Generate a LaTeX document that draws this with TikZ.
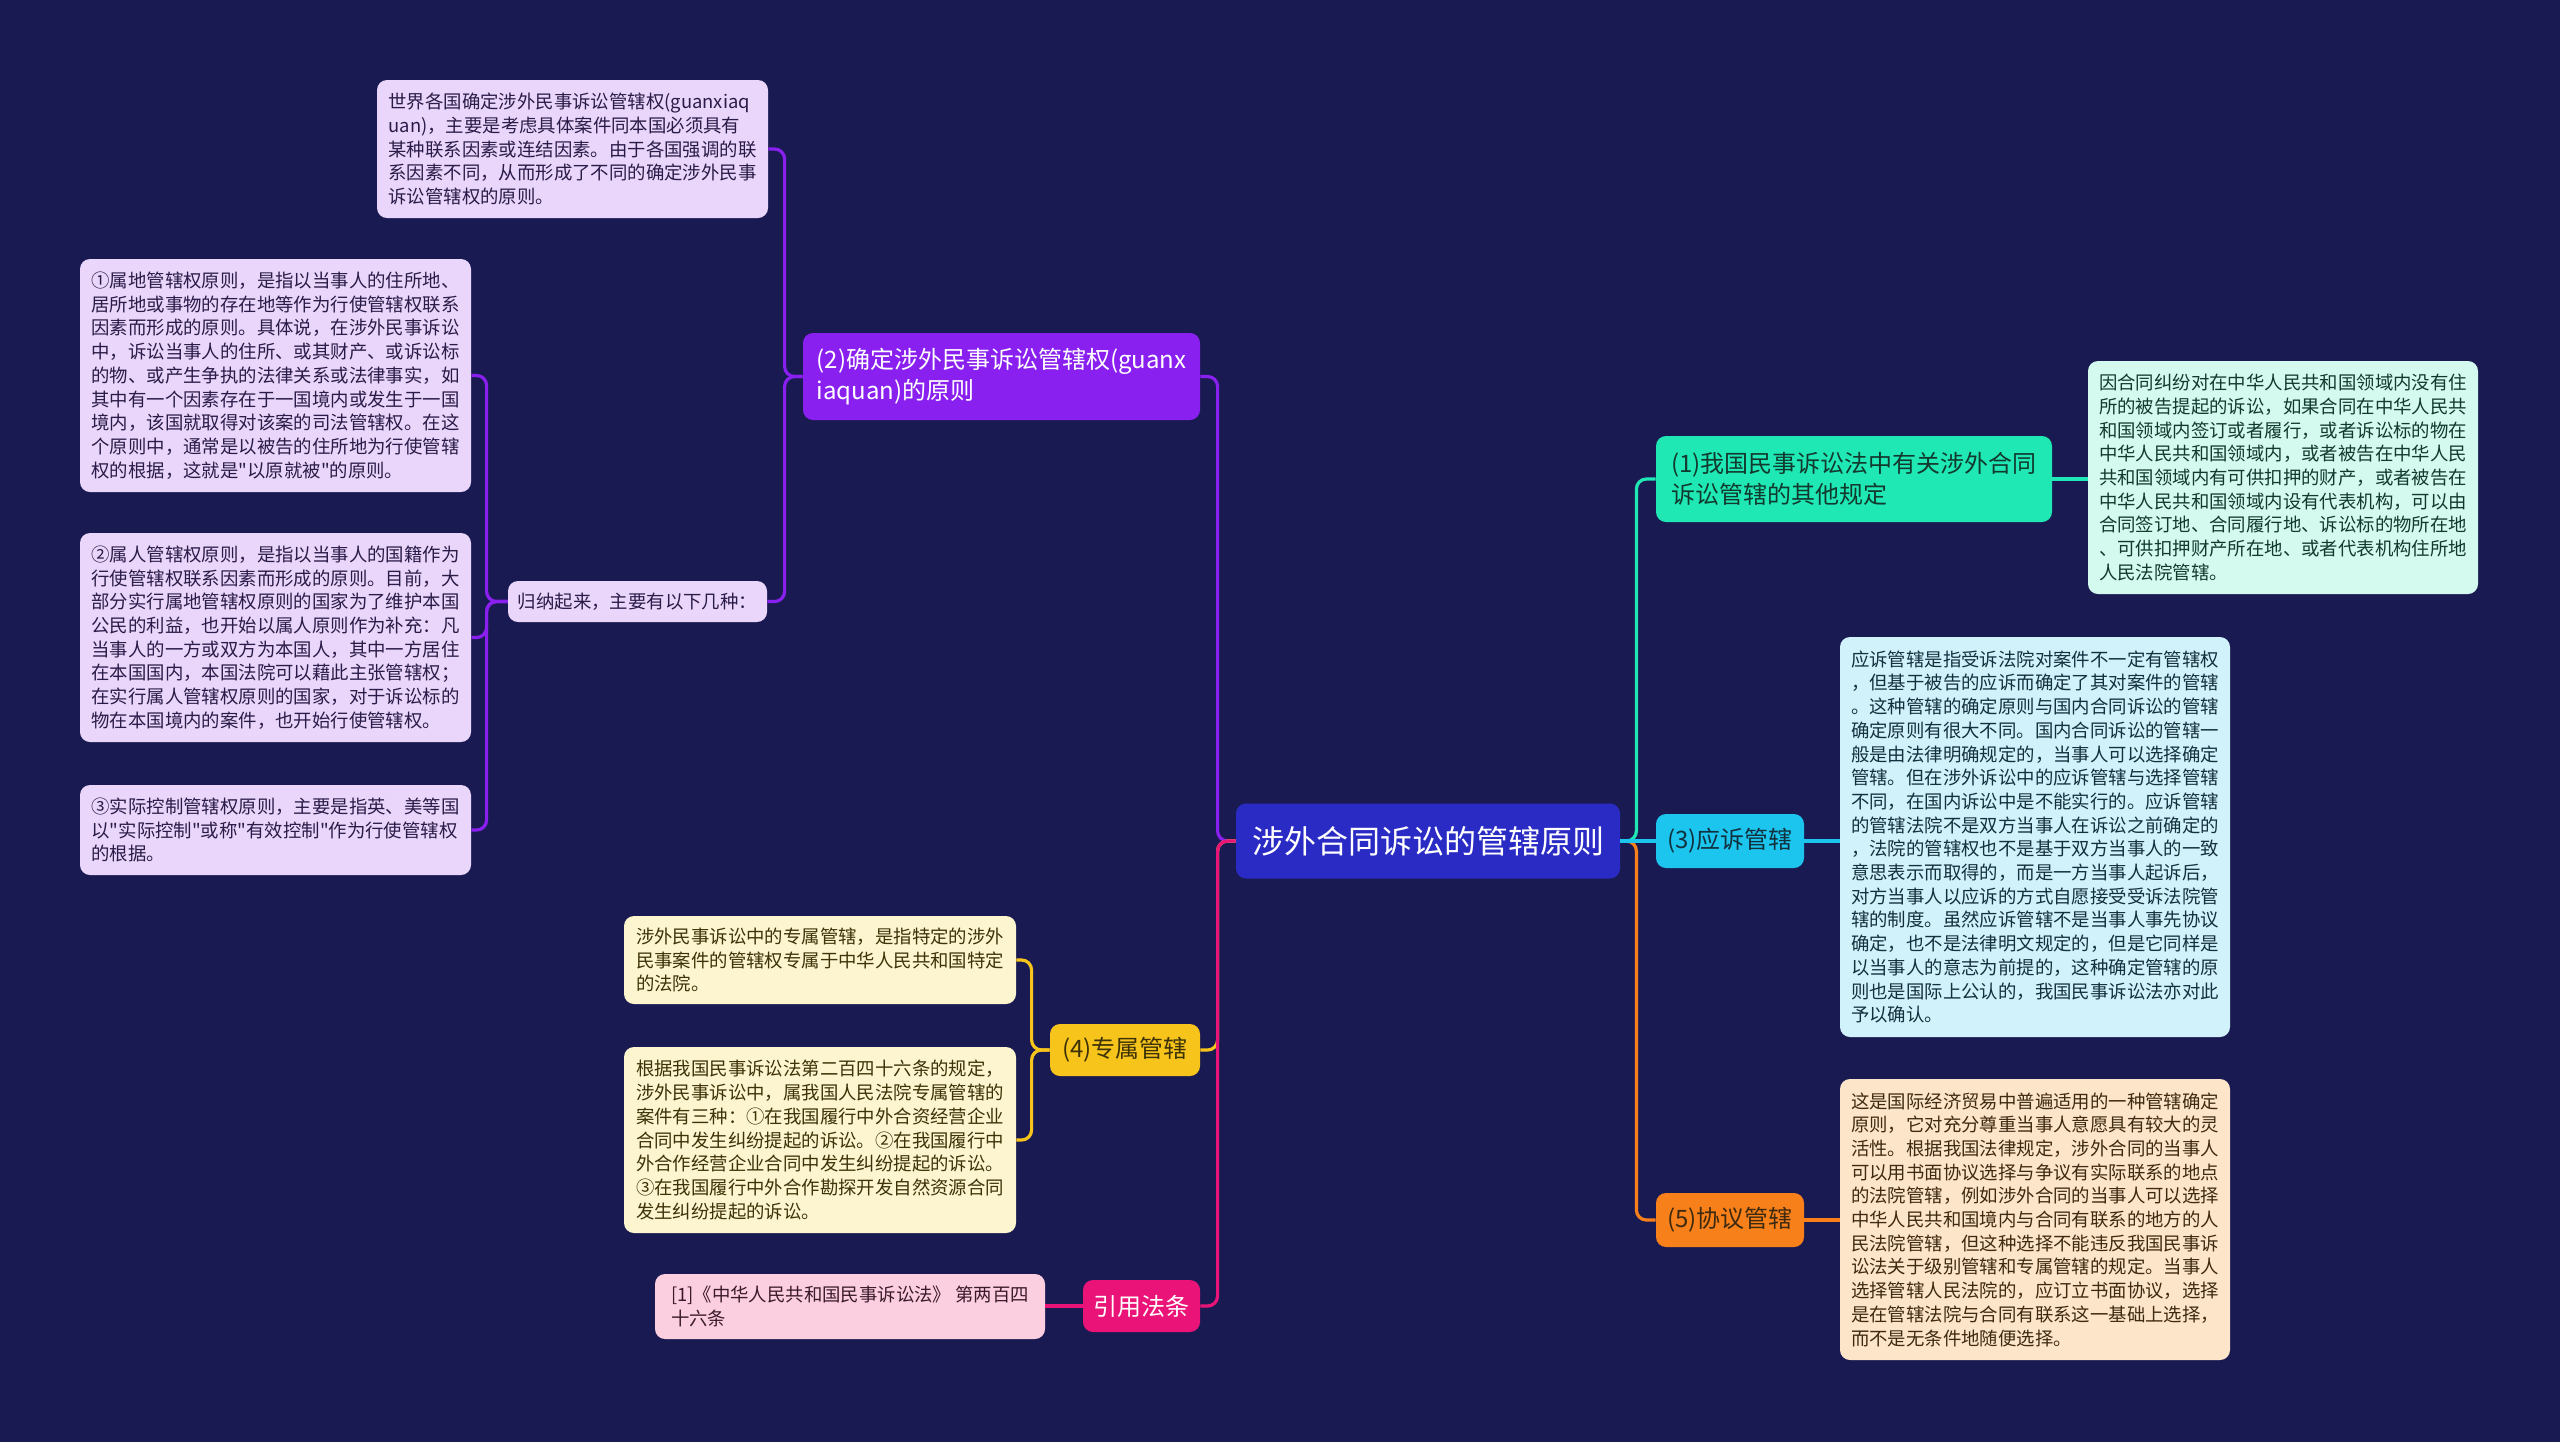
\documentclass[tikz,border=0pt]{standalone}
\usepackage{fontspec}
\setmainfont{Noto Sans CJK SC}[Ligatures=TeXOff]
\usetikzlibrary{calc}
\definecolor{bg}{HTML}{1A1A52}
\definecolor{croot}{HTML}{2A2BC4}
\definecolor{cpurple}{HTML}{8A20F0}
\definecolor{lpurple}{HTML}{E9D6FA}
\definecolor{tpurple}{HTML}{2A1B48}
\definecolor{cyellow}{HTML}{F7C41C}
\definecolor{lyellow}{HTML}{FDF5CF}
\definecolor{tyellow}{HTML}{3D3208}
\definecolor{cpink}{HTML}{EA1478}
\definecolor{lpink}{HTML}{FCCFE0}
\definecolor{tpink}{HTML}{3A1A2A}
\definecolor{cteal}{HTML}{1FE8B5}
\definecolor{lteal}{HTML}{D4FAF0}
\definecolor{tteal}{HTML}{12392E}
\definecolor{ccyan}{HTML}{1CC5EE}
\definecolor{lcyan}{HTML}{D2F2FB}
\definecolor{tcyan}{HTML}{12303E}
\definecolor{corange}{HTML}{F7801A}
\definecolor{lorange}{HTML}{FDE5CA}
\definecolor{torange}{HTML}{3E2A10}
\begin{document}
\begin{tikzpicture}[x=0.5pt,y=-0.5pt,
  box/.style={rounded corners=5pt, draw=none, align=left, inner xsep=4pt, inner ysep=2pt},
  leaf/.style={box, font=\fontsize{9.2}{11.85}\selectfont},
  branch/.style={box, font=\fontsize{12}{15.5}\selectfont},
  conn/.style={line width=1.6pt, rounded corners=5pt}]
\fill[bg] (0,0) rectangle (2560,1442);
\useasboundingbox (0,0) rectangle (2560,1442);

% root
\node[box, fill=croot, text=white, font=\fontsize{16}{20}\selectfont, align=center,
  minimum width=192pt, minimum height=37.5pt] (root) at (1428,841) {涉外合同诉讼的管辖原则};

% left branches
\node[branch, fill=cpurple, text=white, minimum width=198.5pt, minimum height=43.5pt] (b2) at (1001.5,376.5)
  {(2)确定涉外民事诉讼管辖权(guanx\\iaquan)的原则};
\node[branch, fill=cyellow, text=tyellow, align=center, minimum width=75pt, minimum height=26pt] (b4) at (1125,1050) {(4)专属管辖};
\node[branch, fill=cpink, text=white, align=center, minimum width=58.5pt, minimum height=26pt] (bref) at (1141.5,1306) {引用法条};

% right branches
\node[branch, fill=cteal, text=tteal, minimum width=198pt, minimum height=43pt] (b1) at (1854,479)
  {(1)我国民事诉讼法中有关涉外合同\\诉讼管辖的其他规定};
\node[branch, fill=ccyan, text=tcyan, align=center, minimum width=74pt, minimum height=27pt] (b3) at (1730,841) {(3)应诉管辖};
\node[branch, fill=corange, text=torange, align=center, minimum width=74pt, minimum height=27pt] (b5) at (1730,1220) {(5)协议管辖};

% purple leaves
\node[leaf, fill=lpurple, text=tpurple, minimum width=195.5pt, minimum height=69pt] (l2a) at (572.5,149)
  {世界各国确定涉外民事诉讼管辖权(guanxiaq\\uan)，主要是考虑具体案件同本国必须具有\\某种联系因素或连结因素。由于各国强调的联\\系因素不同，从而形成了不同的确定涉外民事\\诉讼管辖权的原则。};
\node[leaf, fill=lpurple, text=tpurple, minimum width=129.5pt, minimum height=20.5pt] (l2b) at (637.5,601.5)
  {归纳起来，主要有以下几种：};
\node[leaf, fill=lpurple, text=tpurple, minimum width=195.5pt, minimum height=116.5pt] (lp1) at (275.5,375.5)
  {①属地管辖权原则，是指以当事人的住所地、\\居所地或事物的存在地等作为行使管辖权联系\\因素而形成的原则。具体说，在涉外民事诉讼\\中，诉讼当事人的住所、或其财产、或诉讼标\\的物、或产生争执的法律关系或法律事实，如\\其中有一个因素存在于一国境内或发生于一国\\境内，该国就取得对该案的司法管辖权。在这\\个原则中，通常是以被告的住所地为行使管辖\\权的根据，这就是"以原就被"的原则。};
\node[leaf, fill=lpurple, text=tpurple, minimum width=195.5pt, minimum height=104.5pt] (lp2) at (275.5,637.5)
  {②属人管辖权原则，是指以当事人的国籍作为\\行使管辖权联系因素而形成的原则。目前，大\\部分实行属地管辖权原则的国家为了维护本国\\公民的利益，也开始以属人原则作为补充：凡\\当事人的一方或双方为本国人，其中一方居住\\在本国国内，本国法院可以藉此主张管辖权；\\在实行属人管辖权原则的国家，对于诉讼标的\\物在本国境内的案件，也开始行使管辖权。};
\node[leaf, fill=lpurple, text=tpurple, minimum width=195.5pt, minimum height=45pt] (lp3) at (275.5,830)
  {③实际控制管辖权原则，主要是指英、美等国\\以"实际控制"或称"有效控制"作为行使管辖权\\的根据。};

% yellow leaves
\node[leaf, fill=lyellow, text=tyellow, minimum width=196pt, minimum height=44pt] (l4a) at (820,960)
  {涉外民事诉讼中的专属管辖，是指特定的涉外\\民事案件的管辖权专属于中华人民共和国特定\\的法院。};
\node[leaf, fill=lyellow, text=tyellow, minimum width=196pt, minimum height=93pt] (l4b) at (820,1140)
  {根据我国民事诉讼法第二百四十六条的规定，\\涉外民事诉讼中，属我国人民法院专属管辖的\\案件有三种：①在我国履行中外合资经营企业\\合同中发生纠纷提起的诉讼。②在我国履行中\\外合作经营企业合同中发生纠纷提起的诉讼。\\③在我国履行中外合作勘探开发自然资源合同\\发生纠纷提起的诉讼。};

% pink leaf
\node[leaf, fill=lpink, text=tpink, minimum width=195pt, minimum height=32.5pt] (lref) at (850,1306.5)
  {[1]《中华人民共和国民事诉讼法》~第两百四\\十六条};

% right leaves
\node[leaf, fill=lteal, text=tteal, minimum width=195pt, minimum height=116.5pt] (l1) at (2283,477.5)
  {因合同纠纷对在中华人民共和国领域内没有住\\所的被告提起的诉讼，如果合同在中华人民共\\和国领域内签订或者履行，或者诉讼标的物在\\中华人民共和国领域内，或者被告在中华人民\\共和国领域内有可供扣押的财产，或者被告在\\中华人民共和国领域内设有代表机构，可以由\\合同签订地、合同履行地、诉讼标的物所在地\\、可供扣押财产所在地、或者代表机构住所地\\人民法院管辖。};
\node[leaf, fill=lcyan, text=tcyan, minimum width=195pt, minimum height=200pt] (l3) at (2035,837)
  {应诉管辖是指受诉法院对案件不一定有管辖权\\，但基于被告的应诉而确定了其对案件的管辖\\。这种管辖的确定原则与国内合同诉讼的管辖\\确定原则有很大不同。国内合同诉讼的管辖一\\般是由法律明确规定的，当事人可以选择确定\\管辖。但在涉外诉讼中的应诉管辖与选择管辖\\不同，在国内诉讼中是不能实行的。应诉管辖\\的管辖法院不是双方当事人在诉讼之前确定的\\，法院的管辖权也不是基于双方当事人的一致\\意思表示而取得的，而是一方当事人起诉后，\\对方当事人以应诉的方式自愿接受受诉法院管\\辖的制度。虽然应诉管辖不是当事人事先协议\\确定，也不是法律明文规定的，但是它同样是\\以当事人的意志为前提的，这种确定管辖的原\\则也是国际上公认的，我国民事诉讼法亦对此\\予以确认。};
\node[leaf, fill=lorange, text=torange, minimum width=195pt, minimum height=140.5pt] (l5) at (2035,1219.5)
  {这是国际经济贸易中普遍适用的一种管辖确定\\原则，它对充分尊重当事人意愿具有较大的灵\\活性。根据我国法律规定，涉外合同的当事人\\可以用书面协议选择与争议有实际联系的地点\\的法院管辖，例如涉外合同的当事人可以选择\\中华人民共和国境内与合同有联系的地方的人\\民法院管辖，但这种选择不能违反我国民事诉\\讼法关于级别管辖和专属管辖的规定。当事人\\选择管辖人民法院的，应订立书面协议，选择\\是在管辖法院与合同有联系这一基础上选择，\\而不是无条件地随便选择。};

% connectors: root to branches
\draw[conn, cpurple] (root.west) -- ++(-18,0) |- (b2.east);
\draw[conn, cyellow] (root.west) -- ++(-18,0) |- (b4.east);
\draw[conn, cpink] (root.west) -- ++(-18,0) |- (bref.east);
\draw[conn, cteal] (root.east) -- ++(16,0) |- (b1.west);
\draw[conn, corange] (root.east) -- ++(16,0) |- (b5.west);
\draw[conn, ccyan] (root.east) -- (b3.west);

% branch to leaves
\draw[conn, cpurple] (b2.west) -- ++(-18,0) |- (l2a.east);
\draw[conn, cpurple] (b2.west) -- ++(-18,0) |- (l2b.east);
\draw[conn, cpurple] (l2b.west) -- ++(-21,0) |- (lp1.east);
\draw[conn, cpurple] (l2b.west) -- ++(-21,0) |- (lp2.east);
\draw[conn, cpurple] (l2b.west) -- ++(-21,0) |- (lp3.east);
\draw[conn, cyellow] (b4.west) -- ++(-18,0) |- (l4a.east);
\draw[conn, cyellow] (b4.west) -- ++(-18,0) |- (l4b.east);
\draw[conn, cpink] (bref.west) -- (bref.west -| lref.east);
\draw[conn, cteal] (b1.east) -- (b1.east -| l1.west);
\draw[conn, ccyan] (b3.east) -- (b3.east -| l3.west);
\draw[conn, corange] (b5.east) -- (b5.east -| l5.west);
\end{tikzpicture}
\end{document}
